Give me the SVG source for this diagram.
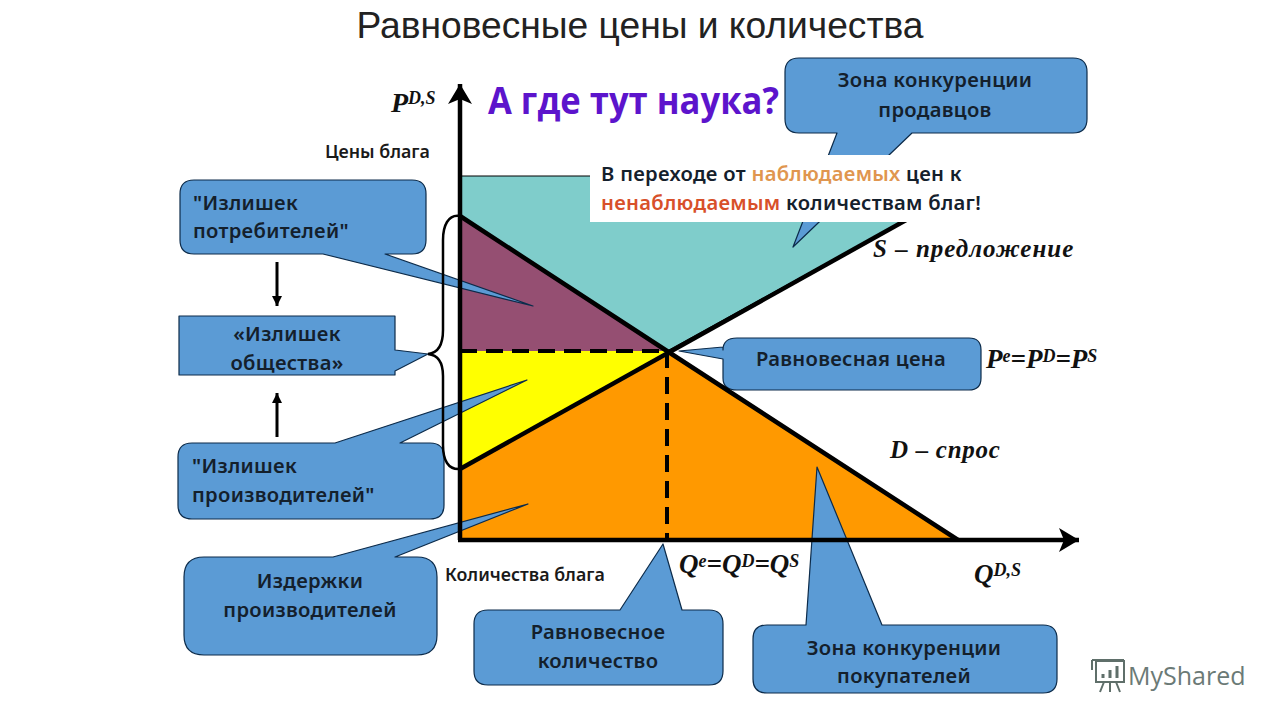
<svg xmlns="http://www.w3.org/2000/svg" width="1280" height="720" viewBox="0 0 1280 720">
<style>
.c{fill:#5b9bd5;stroke:#0c2b4a;stroke-width:1.2;stroke-linejoin:round}
.t{font-family:"Noto Sans","DejaVu Sans",sans-serif;font-size:20.2px;font-weight:600;fill:#14202c;letter-spacing:.3px}
.m{text-anchor:middle}
.l{font-family:"Noto Sans","DejaVu Sans",sans-serif;font-size:17.8px;font-weight:600;fill:#1a1a1a}
.i{font-family:"Liberation Serif",serif;font-weight:700;font-style:italic;font-size:25px;fill:#111}
.e{font-size:27px}
.s{font-size:18px}
.a{stroke:#000;fill:none;stroke-width:4.5}
.d{stroke:#000;fill:none;stroke-width:4;stroke-dasharray:17 9}
</style>
<defs>
<marker id="h" markerUnits="userSpaceOnUse" markerWidth="22" markerHeight="26" refX="20" refY="12" orient="auto"><path d="M0 0L20 12L0 24L5 12Z" fill="#000"/></marker>
<marker id="g" markerUnits="userSpaceOnUse" markerWidth="12" markerHeight="12" refX="10" refY="5" orient="auto"><path d="M0 0L10 5L0 10Z" fill="#000"/></marker>
</defs>
<rect width="1280" height="720" fill="#fff"/>
<text x="640" y="38" text-anchor="middle" font-family="Liberation Sans,sans-serif" font-size="37.2" fill="#222" textLength="567">Равновесные цены и количества</text>
<g id="plot">
<path d="M460 176H985L667 351L460 216Z" fill="#7fcdcb" stroke="#000" stroke-width="1"/>
<path d="M460 216L667 351H460Z" fill="#954f72"/>
<path d="M460 351H667L460 469Z" fill="#ff0"/>
<path d="M460 469L667 351L958 540H460Z" fill="#f90"/>
</g>
<g id="node-consumer">
<path class="c" d="M194 180H412Q426 180 426 194V240Q426 254 412 254H385L533 306L323 254H194Q180 254 180 240V194Q180 180 194 180Z"/>
<text class="t" x="193" y="210">"Излишек</text><text class="t" x="193" y="238">потребителей"</text>
</g>
<g id="node-society">
<path class="c" d="M179 316H395V350L428 354L395 371V375H179Z"/>
<text class="t m" x="287" y="341">«Излишек</text><text class="t m" x="287" y="370">общества»</text>
</g>
<g id="node-producer">
<path class="c" d="M192 443H335L527 380L400 443H430Q444 443 444 457V505Q444 519 430 519H192Q178 519 178 505V457Q178 443 192 443Z"/>
<text class="t" x="192" y="473">"Излишек</text><text class="t" x="192" y="502">производителей"</text>
</g>
<g id="node-costs">
<path class="c" d="M204 557H333L528 504L395 557H417Q437 557 437 577V635Q437 655 417 655H204Q184 655 184 635V577Q184 557 204 557Z"/>
<text class="t m" x="310" y="588">Издержки</text><text class="t m" x="310" y="617">производителей</text>
</g>
<g id="node-quantity">
<path class="c" d="M488 610H620L663 544L682 610H709Q723 610 723 624V671Q723 685 709 685H488Q474 685 474 671V624Q474 610 488 610Z"/>
<text class="t m" x="598" y="639">Равновесное</text><text class="t m" x="598" y="668">количество</text>
</g>
<g id="node-buyers">
<path class="c" d="M767 625H806L817 467L882 625H1043Q1057 625 1057 639V679Q1057 693 1043 693H767Q753 693 753 679V639Q753 625 767 625Z"/>
<text class="t m" x="904" y="655">Зона конкуренции</text><text class="t m" x="904" y="683">покупателей</text>
</g>
<g id="node-price">
<path class="c" d="M737 338H969Q981 338 981 350V378Q981 390 969 390H737Q723 390 723 378V359L679 351L723 347V350Q723 338 737 338Z"/>
<text class="t m" x="851" y="366">Равновесная цена</text>
</g>
<g id="node-sellers">
<path class="c" d="M799 58H1073Q1087 58 1087 72V119Q1087 133 1073 133H912L793 247L837 133H799Q785 133 785 119V72Q785 58 799 58Z"/>
<text class="t m" x="935" y="87">Зона конкуренции</text><text class="t m" x="935" y="117">продавцов</text>
</g>
<g id="connectors">
<path class="a" d="M460 540V84" marker-end="url(#h)"/>
<path class="a" d="M458 540H1079" marker-end="url(#h)"/>
<path class="a" stroke-width="4" d="M460 216L667 351L958 540"/>
<path class="a" stroke-width="4" d="M460 469L985 176"/>
<path class="d" d="M460 351H667"/>
<path class="d" d="M667 351V540"/>
<path fill="none" stroke="#000" stroke-width="2.5" d="M460 216C448 214 443 226 443 240V330C443 345 438 353 428 354C438 355 443 362 443 376V445C443 460 448 470 460 469"/>
<path stroke="#000" stroke-width="3" d="M277 262V306" marker-end="url(#g)"/>
<path stroke="#000" stroke-width="3" d="M277 437V393" marker-end="url(#g)"/>
</g>
<g id="question">
<path fill="#fff" d="M590 155H990V222H590Z"/>
<text x="488" y="114" font-family="Open Sans,sans-serif" font-weight="700" font-size="38" fill="#5c14cc" textLength="291" lengthAdjust="spacingAndGlyphs">А где тут наука?</text>
<text class="t" x="601" y="181">В переходе от <tspan fill="#e0964f">наблюдаемых</tspan> цен к</text>
<text class="t" x="601" y="210"><tspan fill="#d8502a">ненаблюдаемым</tspan> количествам благ!</text>
</g>
<g id="labels">
<text class="l" x="325" y="158">Цены блага</text>
<text class="l" x="445" y="581">Количества блага</text>
<text class="i" x="391" y="112" style="font-size:28px">P<tspan class="s" dy="-8">D,S</tspan></text>
<text class="i" x="873" y="257" style="letter-spacing:1px">S – предложение</text>
<text class="i" x="890" y="458" style="letter-spacing:.7px">D – спрос</text>
<text class="i e" x="986" y="368">P<tspan class="s" dy="-6">e</tspan><tspan dy="6">=P</tspan><tspan class="s" dy="-6">D</tspan><tspan dy="6">=P</tspan><tspan class="s" dy="-6">S</tspan></text>
<text class="i e" x="679" y="573">Q<tspan class="s" dy="-6">e</tspan><tspan dy="6">=Q</tspan><tspan class="s" dy="-6">D</tspan><tspan dy="6">=Q</tspan><tspan class="s" dy="-6">S</tspan></text>
<text class="i e" x="974" y="583">Q<tspan class="s" dy="-7">D,S</tspan></text>
</g>
<g id="watermark" stroke="#5f6f6a" fill="none" stroke-width="2">
<rect x="1096" y="661" width="28" height="21"/>
<path d="M1092 660H1124M1092 660V670M1104 682L1100 692M1110 682V692M1116 682L1120 692"/>
<path stroke-width="3" d="M1103 678V674M1110 678V670M1117 678V666"/>
<text x="1128" y="685" font-family="Open Sans,sans-serif" font-size="25" fill="#6b7a76" stroke="none">MyShared</text>
</g>
</svg>
